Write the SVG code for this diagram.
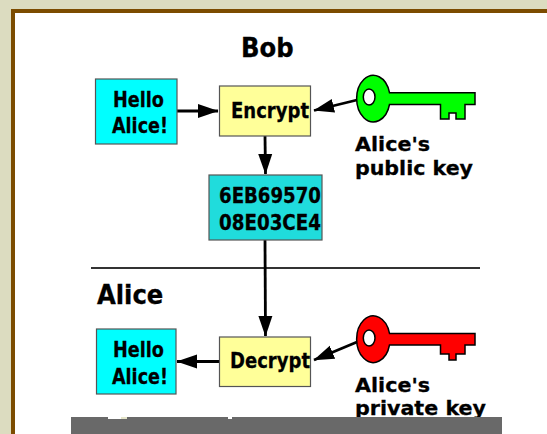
<svg xmlns="http://www.w3.org/2000/svg" width="547" height="434" viewBox="0 0 547 434">
<style>
text{font-family:"DejaVu Sans",sans-serif;font-weight:bold;fill:#000;stroke:#000;stroke-width:.3}
.c{font-family:"DejaVu Sans Condensed","DejaVu Sans",sans-serif}
.b{font-size:22px}
.t{font-size:27px}
.k{font-size:20px}
.box{stroke:#555;stroke-width:1.200}
.key{stroke:#000;stroke-width:1.500}
.cn line{stroke:#000;stroke-width:2.800}
</style>
<defs><marker id="a" markerUnits="userSpaceOnUse" markerWidth="22" markerHeight="16" refX="20" refY="8" orient="auto"><path d="M0 1L20.500 8L0 15Z" fill="#000"/></marker></defs>
<rect width="547" height="434" fill="#dcdcc0"/>
<rect x="13" y="11" width="540" height="430" fill="#fff" stroke="#7c4c00" stroke-width="4"/>
<path d="M91 268H480" stroke="#333" stroke-width="2" fill="none"/>
<g class="cn">
<line x1="177" y1="111" x2="218" y2="111" marker-end="url(#a)"/>
<line x1="265" y1="136" x2="265.500" y2="174" marker-end="url(#a)"/>
<line x1="357" y1="100" x2="314" y2="110.500" marker-end="url(#a)"/>
<line x1="265" y1="240" x2="265.500" y2="336" marker-end="url(#a)"/>
<line x1="357" y1="342" x2="314" y2="360" marker-end="url(#a)"/>
<line x1="219" y1="361.500" x2="177" y2="361.500" marker-end="url(#a)"/>
</g>
<g id="bob"><text class="t c" x="241" y="57">Bob</text></g>
<g id="alice"><text class="t c" x="97" y="304">Alice</text></g>
<g id="hello1"><rect class="box" x="95.500" y="79" width="81.500" height="65" fill="#0ff"/><text class="b" x="113" y="106.500" textLength="51" lengthAdjust="spacingAndGlyphs">Hello</text><text class="b" x="112" y="133" textLength="56" lengthAdjust="spacingAndGlyphs">Alice!</text></g>
<g id="encrypt"><rect class="box" x="219.500" y="86" width="91" height="50" fill="#ffff99"/><text class="b" x="231" y="117.500" textLength="78" lengthAdjust="spacingAndGlyphs">Encrypt</text></g>
<g id="cipher"><rect class="box" x="209" y="175" width="113" height="65" fill="#20dcdc"/><text class="b" x="219" y="202.500" textLength="102" lengthAdjust="spacingAndGlyphs">6EB69570</text><text class="b" x="219" y="230" textLength="102" lengthAdjust="spacingAndGlyphs">08E03CE4</text></g>
<g id="decrypt"><rect class="box" x="219.500" y="337" width="91" height="49.500" fill="#ffff99"/><text class="b" x="230" y="367.500" textLength="80" lengthAdjust="spacingAndGlyphs">Decrypt</text></g>
<g id="hello2"><rect class="box" x="96.500" y="329" width="79.500" height="65" fill="#0ff"/><text class="b" x="113" y="357" textLength="51" lengthAdjust="spacingAndGlyphs">Hello</text><text class="b" x="112" y="383.500" textLength="56" lengthAdjust="spacingAndGlyphs">Alice!</text></g>
<g id="public-key"><path class="key" fill="#0f0" fill-rule="evenodd" d="M389.500 92.700H475V104.500H465V119H456V113H449V119H440.500V104.500H389.500A16.700 23.300 0 1 1 389.500 92.700ZM369 89C365.800 89 363.300 92.500 363.300 97C363.300 101.500 365.800 105 369 105C372.300 105 375 101.500 375 97C375 92.500 372.300 89 369 89Z"/><text class="k" x="355" y="151" textLength="75" lengthAdjust="spacingAndGlyphs">Alice's</text><text class="k" x="355" y="175" textLength="118" lengthAdjust="spacingAndGlyphs">public key</text></g>
<g id="private-key"><path class="key" fill="#f00" fill-rule="evenodd" d="M389.500 333.400H475V345H465V354H456V360H449V354H440.500V345H389.500A16.700 23.300 0 1 1 389.500 333.400ZM369 330C365.800 330 363.300 333.500 363.300 338C363.300 342.500 365.800 346 369 346C372.300 346 375 342.500 375 338C375 333.500 372.300 330 369 330Z"/><text class="k" x="355" y="392" textLength="75" lengthAdjust="spacingAndGlyphs">Alice's</text><text class="k" x="355" y="415" textLength="131" lengthAdjust="spacingAndGlyphs">private key</text></g>
<rect x="71" y="417" width="431" height="17" fill="#696969"/>
<rect x="108" y="417" width="13" height="2" fill="#fff"/><rect x="121" y="417" width="6" height="2" fill="#e4e4c8"/><rect x="228" y="417" width="4" height="2" fill="#fff"/>
</svg>
